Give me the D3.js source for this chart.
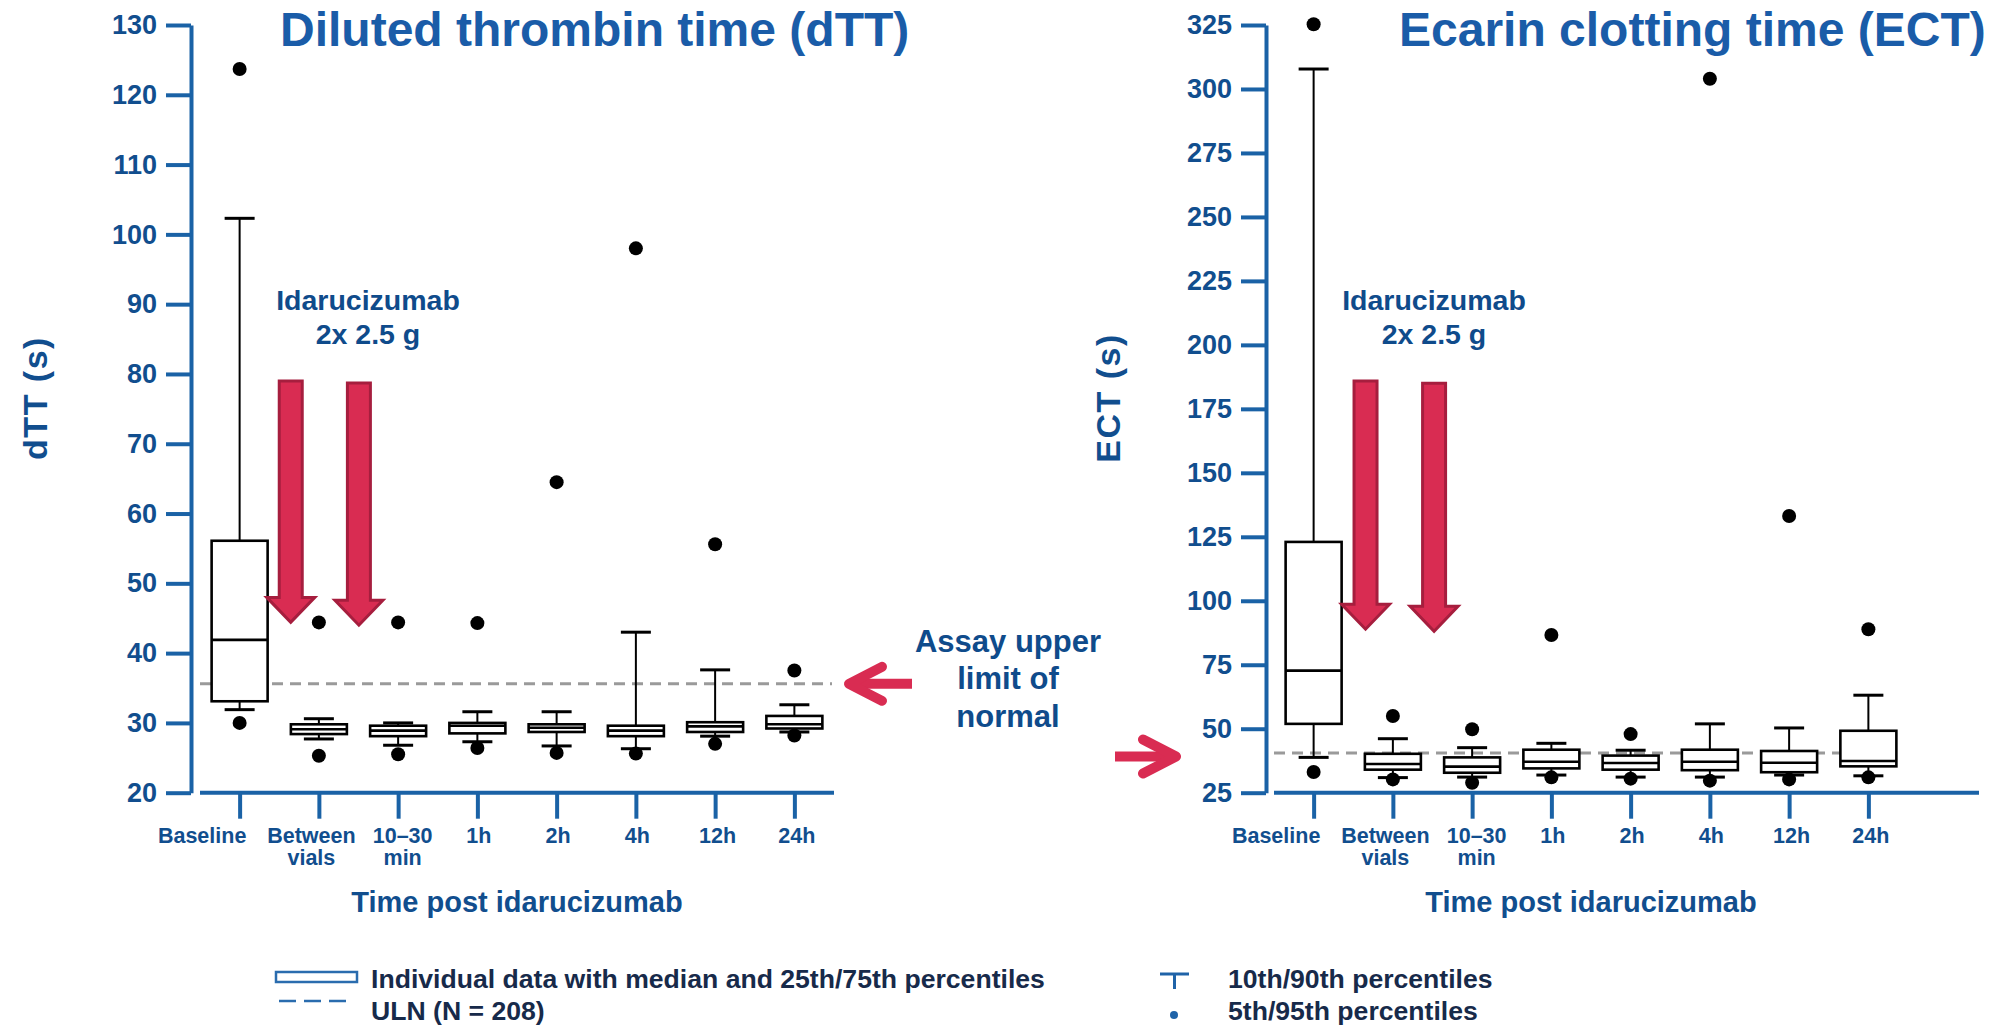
<!DOCTYPE html>
<html>
<head>
<meta charset="utf-8">
<script src="https://cdn.jsdelivr.net/npm/d3@7"></script>
<style>
  html, body { margin: 0; padding: 0; background: #ffffff; }
  svg { display: block; font-family: "Liberation Sans", Arial, Helvetica, sans-serif; font-weight: bold; }
</style>
</head>
<body>
<svg id="chart" width="1998" height="1027"></svg>
<script>
// Sampling time points after idarucizumab
const categories = ["Baseline", "Between vials", "10–30 min", "1h", "2h", "4h", "12h", "24h"];
const categoryLines = [["Baseline"], ["Between", "vials"], ["10–30", "min"], ["1h"], ["2h"], ["4h"], ["12h"], ["24h"]];
// horizontal nudge of each tick label relative to its tick (px)
const categoryLabelShift = [-38, -8, 4, 1, 1, 1, 2, 2];

// Diluted thrombin time (s): percentile summaries per time point
const dttP5     = [30.0, 25.3, 25.5, 26.4, 25.7, 25.6, 27.0, 28.2];
const dttP10    = [31.9, 27.7, 26.8, 27.3, 26.7, 26.3, 28.1, 28.7];
const dttQ1     = [33.1, 28.4, 28.1, 28.5, 28.7, 28.1, 28.7, 29.2];
const dttMedian = [41.9, 29.1, 28.9, 29.6, 29.3, 28.9, 29.5, 29.8];
const dttQ3     = [56.1, 29.8, 29.6, 30.0, 29.8, 29.6, 30.1, 31.0];
const dttP90    = [102.3, 30.6, 30.0, 31.6, 31.6, 43.0, 37.6, 32.6];
const dttP95    = [123.7, 44.4, 44.4, 44.3, 64.5, 98.0, 55.6, 37.5];
const dttULN = 35.6;
const dttTicks = [20, 30, 40, 50, 60, 70, 80, 90, 100, 110, 120, 130];

// Ecarin clotting time (s): percentile summaries per time point
const ectP5     = [33.1, 30.2, 28.9, 31.0, 30.5, 29.7, 30.2, 31.0];
const ectP10    = [38.8, 30.9, 31.1, 31.9, 31.1, 31.1, 31.9, 31.6];
const ectQ1     = [51.9, 34.0, 32.8, 34.5, 34.0, 33.8, 33.0, 35.3];
const ectMedian = [72.7, 36.2, 35.2, 37.1, 36.6, 37.1, 36.7, 37.4];
const ectQ3     = [123.0, 40.2, 38.8, 41.8, 39.5, 41.8, 41.3, 49.2];
const ectP90    = [307.8, 46.1, 42.6, 44.3, 41.6, 51.9, 50.3, 63.1];
const ectP95    = [325.3, 55.0, 49.8, 86.6, 47.9, 304.0, 133.1, 88.9];
const ectULN = 40.5;
const ectTicks = [25, 50, 75, 100, 125, 150, 175, 200, 225, 250, 275, 300, 325];

// Dose arrows: the two 2.5 g vials, placed between time points (value at top and tip)
const dttDoseArrows = [
  { after: "Baseline", frac: 0.645, top: 79.0, tip: 44.4 },
  { after: "Between vials", frac: 0.505, top: 78.7, tip: 44.0 }
];
const ectDoseArrows = [
  { after: "Baseline", frac: 0.655, top: 185.9, tip: 88.9 },
  { after: "Between vials", frac: 0.52, top: 185.0, tip: 88.1 }
];

const AXIS_BLUE = "#1a62a6";
const LABEL_BLUE = "#114e8e";
const TITLE_BLUE = "#1a5ca8";
const NOTE_BLUE = "#0f4b8b";
const ARROW_RED = "#d92c52";
const ARROW_DARK = "#a61e3e";
const LEGEND_TEXT = "#172a4a";

const svg = d3.select("#chart");

function zip(p5, p10, q1, med, q3, p90, p95) {
  return categories.map((c, i) => ({
    cat: c, p5: p5[i], p10: p10[i], q1: q1[i], med: med[i], q3: q3[i], p90: p90[i], p95: p95[i]
  }));
}

const panels = [
  {
    title: "Diluted thrombin time (dTT)", titleX: 280,
    yLabel: "dTT (s)", yLabelX: 47,
    axisX: 191, xStart: 200, xEnd: 834, xAxisEnd: 834,
    top: 25, bottom: 792.7,
    domain: [20, 130], ticks: dttTicks,
    rows: zip(dttP5, dttP10, dttQ1, dttMedian, dttQ3, dttP90, dttP95),
    uln: dttULN, ulnEnd: 832,
    doseArrows: dttDoseArrows, doseTextX: 368
  },
  {
    title: "Ecarin clotting time (ECT)", titleX: 1399,
    yLabel: "ECT (s)", yLabelX: 1120,
    axisX: 1266, xStart: 1274, xEnd: 1908, xAxisEnd: 1979,
    top: 25, bottom: 792.7,
    domain: [25, 325], ticks: ectTicks,
    rows: zip(ectP5, ectP10, ectQ1, ectMedian, ectQ3, ectP90, ectP95),
    uln: ectULN, ulnEnd: 1868,
    doseArrows: ectDoseArrows, doseTextX: 1434
  }
];

const BOX_W = 56, CAP_W = 30, DOT_R = 7;

panels.forEach(p => {
  const g = svg.append("g");
  const y = d3.scaleLinear().domain(p.domain).range([p.bottom, p.top]);
  const x = d3.scalePoint().domain(categories).range([p.xStart, p.xEnd]).padding(0.5);
  p.y = y; p.x = x;

  // Title
  g.append("text").attr("x", p.titleX).attr("y", 46)
    .attr("font-size", 48).attr("fill", TITLE_BLUE).text(p.title);

  // Y axis
  const yAxis = d3.axisLeft(y).tickValues(p.ticks).tickSize(25).tickSizeOuter(0).tickPadding(9)
    .tickFormat(d3.format("d"));
  const ya = g.append("g").attr("transform", `translate(${p.axisX},0)`).call(yAxis);
  ya.attr("font-family", null);
  ya.select(".domain").attr("stroke", AXIS_BLUE).attr("stroke-width", 4);
  ya.selectAll(".tick line").attr("stroke", AXIS_BLUE).attr("stroke-width", 4);
  ya.selectAll(".tick text").attr("fill", LABEL_BLUE).attr("font-size", 27);

  // Y axis title
  g.append("text").attr("transform", `translate(${p.yLabelX},398) rotate(-90)`)
    .attr("text-anchor", "middle").attr("font-size", 34).attr("letter-spacing", 1.5)
    .attr("fill", LABEL_BLUE).text(p.yLabel);

  // X axis
  const xAxis = d3.axisBottom(x).tickSize(26).tickSizeOuter(0).tickFormat("");
  const xa = g.append("g").attr("transform", `translate(0,${p.bottom})`).call(xAxis);
  xa.attr("font-family", null);
  xa.select(".domain").remove();
  xa.selectAll(".tick line").attr("stroke", AXIS_BLUE).attr("stroke-width", 4);
  xa.selectAll(".tick").each(function (d, i) {
    const t = d3.select(this).append("text")
      .attr("text-anchor", "middle").attr("font-size", 21.5).attr("fill", LABEL_BLUE);
    categoryLines[i].forEach((line, k) => {
      t.append("tspan").attr("x", categoryLabelShift[i]).attr("y", 50 + k * 22.5).text(line);
    });
  });
  g.append("line").attr("x1", p.xStart).attr("x2", p.xAxisEnd)
    .attr("y1", p.bottom).attr("y2", p.bottom)
    .attr("stroke", AXIS_BLUE).attr("stroke-width", 4);

  g.append("text").attr("x", (p.xStart + p.xEnd) / 2).attr("y", 912)
    .attr("text-anchor", "middle").attr("font-size", 29).attr("fill", LABEL_BLUE)
    .text("Time post idarucizumab");

  // Upper limit of normal (dashed)
  g.append("line").attr("x1", p.xStart).attr("x2", p.ulnEnd)
    .attr("y1", y(p.uln)).attr("y2", y(p.uln))
    .attr("stroke", "#9a9a9a").attr("stroke-width", 3).attr("stroke-dasharray", "11,7");

  // Box plots
  const bx = g.selectAll("g.box").data(p.rows).join("g").attr("class", "box")
    .attr("transform", d => `translate(${x(d.cat)},0)`);

  bx.append("line").attr("x1", 0).attr("x2", 0)
    .attr("y1", d => y(d.q3)).attr("y2", d => y(d.p90))
    .attr("stroke", "#000").attr("stroke-width", 2);
  bx.append("line").attr("x1", 0).attr("x2", 0)
    .attr("y1", d => y(d.q1)).attr("y2", d => y(d.p10))
    .attr("stroke", "#000").attr("stroke-width", 2);
  bx.append("line").attr("x1", -CAP_W / 2).attr("x2", CAP_W / 2)
    .attr("y1", d => y(d.p90)).attr("y2", d => y(d.p90))
    .attr("stroke", "#000").attr("stroke-width", 3);
  bx.append("line").attr("x1", -CAP_W / 2).attr("x2", CAP_W / 2)
    .attr("y1", d => y(d.p10)).attr("y2", d => y(d.p10))
    .attr("stroke", "#000").attr("stroke-width", 3);
  bx.append("rect").attr("x", -BOX_W / 2).attr("width", BOX_W)
    .attr("y", d => y(d.q3)).attr("height", d => y(d.q1) - y(d.q3))
    .attr("fill", "#fff").attr("stroke", "#000").attr("stroke-width", 2.6);
  bx.append("line").attr("x1", -BOX_W / 2).attr("x2", BOX_W / 2)
    .attr("y1", d => y(d.med)).attr("y2", d => y(d.med))
    .attr("stroke", "#000").attr("stroke-width", 2.6);
  bx.append("circle").attr("cx", 0).attr("cy", d => y(d.p5)).attr("r", DOT_R).attr("fill", "#000");
  bx.append("circle").attr("cx", 0).attr("cy", d => y(d.p95)).attr("r", DOT_R).attr("fill", "#000");

  // Dose arrows
  const step = x.step();
  p.doseArrows.forEach(a => {
    const cx = x(a.after) + a.frac * step;
    const yt = y(a.top), ytip = y(a.tip), ysh = ytip - 25;
    const w = 23, hw = 48;
    const pts = [
      [cx - w / 2, yt], [cx + w / 2, yt], [cx + w / 2, ysh], [cx + hw / 2, ysh],
      [cx, ytip], [cx - hw / 2, ysh], [cx - w / 2, ysh]
    ];
    g.append("polygon").attr("points", pts.map(q => q.join(",")).join(" "))
      .attr("fill", ARROW_RED).attr("stroke", ARROW_DARK).attr("stroke-width", 3)
      .attr("stroke-linejoin", "miter");
  });
  const dt = g.append("text").attr("text-anchor", "middle").attr("font-size", 28.5).attr("fill", NOTE_BLUE);
  dt.append("tspan").attr("x", p.doseTextX).attr("y", 310).text("Idarucizumab");
  dt.append("tspan").attr("x", p.doseTextX).attr("y", 344).text("2x 2.5 g");
});

// Assay upper limit of normal note with pointers to each dashed line
const note = svg.append("text").attr("text-anchor", "middle").attr("font-size", 31).attr("fill", NOTE_BLUE);
[["Assay upper", 652], ["limit of", 689], ["normal", 727]].forEach(([t, yy]) => {
  note.append("tspan").attr("x", 1008).attr("y", yy).text(t);
});

function pointer(tailX, tipX, yy) {
  const dir = Math.sign(tailX - tipX);
  svg.append("line").attr("x1", tailX).attr("x2", tipX + dir * 8).attr("y1", yy).attr("y2", yy)
    .attr("stroke", ARROW_RED).attr("stroke-width", 10).attr("stroke-linecap", "butt");
  svg.append("path")
    .attr("d", `M${tipX + dir * 33},${yy - 17} L${tipX},${yy} L${tipX + dir * 33},${yy + 17}`)
    .attr("fill", "none").attr("stroke", ARROW_RED).attr("stroke-width", 10)
    .attr("stroke-linecap", "round").attr("stroke-linejoin", "round");
}
pointer(912, 849, panels[0].y(dttULN));
pointer(1115, 1176, panels[1].y(ectULN) + 3.5);

// Legend
const lg = svg.append("g");
lg.append("rect").attr("x", 276).attr("y", 972).attr("width", 81).attr("height", 10)
  .attr("fill", "#fff").attr("stroke", "#2a6cae").attr("stroke-width", 2.5);
lg.append("line").attr("x1", 279).attr("x2", 352).attr("y1", 1001).attr("y2", 1001)
  .attr("stroke", "#2a6cae").attr("stroke-width", 2.5).attr("stroke-dasharray", "17,8");
lg.append("line").attr("x1", 1160).attr("x2", 1189).attr("y1", 974).attr("y2", 974)
  .attr("stroke", "#1f63a8").attr("stroke-width", 3);
lg.append("line").attr("x1", 1174.5).attr("x2", 1174.5).attr("y1", 974).attr("y2", 989)
  .attr("stroke", "#1f63a8").attr("stroke-width", 3);
lg.append("circle").attr("cx", 1174).attr("cy", 1015).attr("r", 4).attr("fill", "#1f63a8");

[["Individual data with median and 25th/75th percentiles", 371, 988],
 ["ULN (N = 208)", 371, 1020],
 ["10th/90th percentiles", 1228, 988],
 ["5th/95th percentiles", 1228, 1020]].forEach(([t, xx, yy]) => {
  lg.append("text").attr("x", xx).attr("y", yy).attr("font-size", 26.6).attr("fill", LEGEND_TEXT).text(t);
});
</script>
</body>
</html>
